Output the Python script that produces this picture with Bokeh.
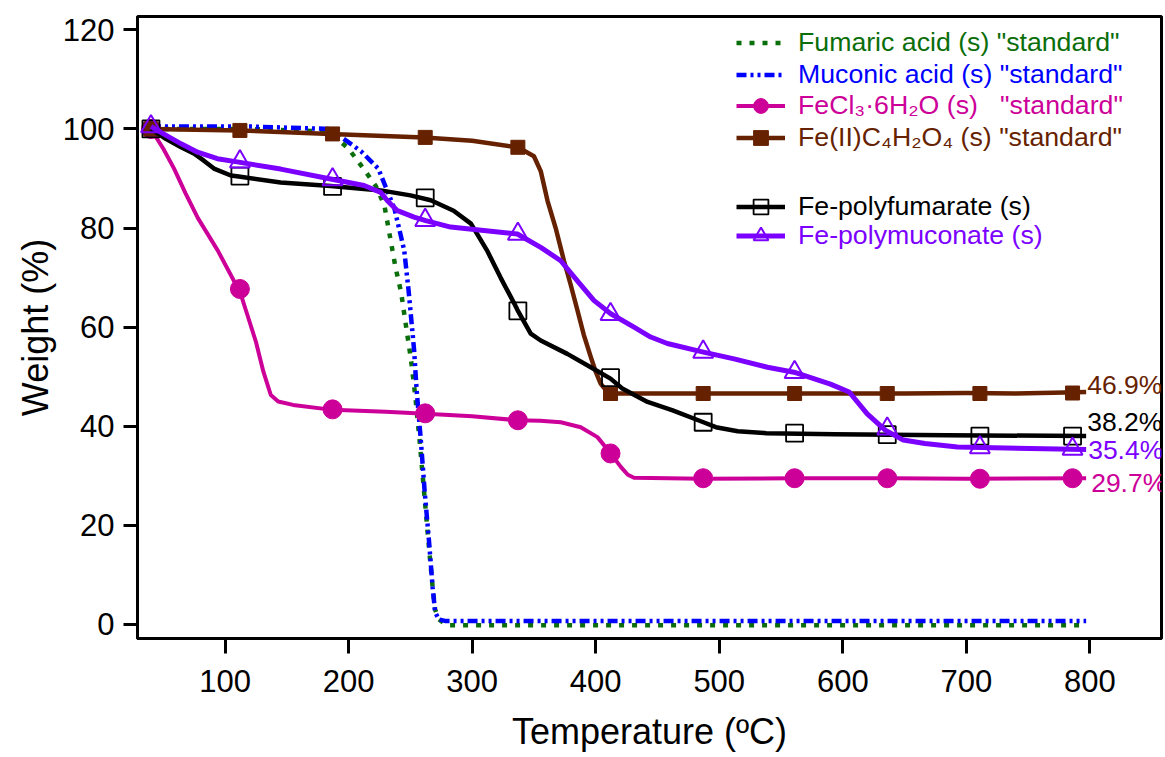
from bokeh.plotting import figure
from bokeh.models import Range1d, FixedTicker, Legend, LegendItem, ColumnDataSource
from bokeh.core.properties import value
from bokeh.embed import file_html
from bokeh.resources import INLINE

FONT = "Liberation Sans"

# ---------------- data ----------------
fumaric_T = [40, 120, 180, 191, 200, 212, 222, 229, 238, 242.5, 246, 250.5, 254, 257.5, 261, 264.5, 268, 270, 273, 280, 500, 797]
fumaric_W = [100, 100, 99.5, 98, 96, 92, 88.5, 84.5, 72, 67, 61, 53.4, 46, 37, 27, 17, 7.5, 3, 1, -0.2, -0.2, -0.2]

muconic_T = [40, 120, 185, 196, 210, 224, 237, 245, 248.5, 253, 255, 258.5, 261.5, 265, 268, 270, 273, 278, 500, 797]
muconic_W = [100.5, 100.5, 100, 98, 95.5, 92, 84, 75.5, 67.5, 55.4, 47.5, 37, 27, 17, 7.5, 2.5, 1, 0.7, 0.7, 0.7]

fecl3_T = [40, 50, 58.7, 68, 78, 94, 107, 111.3, 118, 125, 131, 137, 143, 155, 187, 230, 262.4, 300, 336.6, 355, 371.7, 387.9, 401.4, 412.2, 420.3, 426, 431, 486, 560, 640, 700, 797]
fecl3_W = [100, 96, 92, 87, 82, 75.5, 69.4, 67.7, 62.5, 57, 51, 46.3, 45, 44.3, 43.3, 42.9, 42.5, 42, 41.2, 41.1, 40.8, 39.8, 37.8, 34.5, 31.8, 30.2, 29.6, 29.4, 29.5, 29.5, 29.4, 29.5]

fefum_T = [40, 111.4, 185.5, 261, 300, 337, 350, 355.5, 361, 367.6, 374.3, 379.8, 385.2, 390.3, 396, 400, 404, 409.5, 412, 450, 550, 650, 700, 740, 780, 797]
fefum_W = [100, 99.7, 99, 98.3, 97.6, 96.3, 94.5, 91.5, 85.5, 80, 73.4, 68.5, 63.4, 58.5, 54, 51, 48.6, 46.9, 46.6, 46.6, 46.6, 46.6, 46.7, 46.6, 46.8, 46.9]

polyfum_T = [40, 52, 64.4, 75, 82.8, 91, 104.7, 111, 145, 185.5, 226, 250, 266.5, 285, 299, 312, 323, 334, 336.6, 347.4, 355.5, 377, 396, 412, 421.5, 442, 462.3, 487.2, 497.3, 515, 538, 593.4, 684, 797]
polyfum_W = [100, 98, 96.3, 95, 93.6, 92, 90.6, 90.4, 89.2, 88.5, 87.6, 86.6, 85.6, 83.5, 80.9, 75.5, 70, 64.8, 63.5, 58.7, 57.3, 54.6, 51.9, 49.6, 47.6, 44.9, 43.2, 40.8, 39.8, 39, 38.6, 38.4, 38.2, 38.0]

polymuc_T = [40, 48, 64.4, 77.7, 93.8, 111, 145, 185.5, 212.5, 226, 231.4, 239.5, 253, 262.4, 282.6, 309.4, 336.6, 355.5, 371.7, 385, 398.5, 412.2, 431, 444.5, 458, 486.3, 512, 539, 560.5, 590, 605.2, 619.8, 634.4, 649, 666.5, 692.8, 797]
polymuc_W = [100.5, 99.3, 97, 95.3, 94, 93.3, 91.9, 89.9, 88.6, 87.2, 85.5, 83.5, 82.2, 81.5, 80.2, 79.5, 78.8, 76.1, 73.4, 69.4, 65.4, 62.7, 60, 58, 56.7, 55, 53.6, 51.9, 50.9, 48.5, 46.9, 42.5, 39.2, 37.2, 36.5, 35.8, 35.3]

marker_T = [40, 112, 187, 262, 337, 412, 487, 561, 636, 711, 786]
fecl3_mW = [100, 67.7, 43.4, 42.6, 41.2, 34.5, 29.5, 29.5, 29.5, 29.4, 29.5]
fefum_mW = [100, 99.7, 99.0, 98.3, 96.3, 46.6, 46.6, 46.6, 46.6, 46.6, 46.7]
polyfum_mW = [100, 90.5, 88.4, 86.1, 63.3, 49.8, 40.8, 38.6, 38.3, 38.0, 38.0]
polymuc_mW = [100.5, 93.4, 89.8, 81.6, 78.8, 62.6, 55.0, 50.9, 39.5, 35.7, 35.4]

end_T = [797, 797, 797, 797]
end_W = [46.9, 38.2, 35.4, 29.7]
end_labels = ["46.9%", "38.2%", "35.4%", "29.7%"]

x_ticks = [100, 200, 300, 400, 500, 600, 700, 800]
y_ticks = [0, 20, 40, 60, 80, 100, 120]

labels = ['Fumaric acid (s) "standard"',
          'Muconic acid (s) "standard"',
          'FeCl\u2083\u00b76H\u2082O (s)\u00a0\u00a0\u00a0"standard"',
          'Fe(II)C\u2084H\u2082O\u2084 (s) "standard"',
          'Fe-polyfumarate (s)',
          'Fe-polymuconate (s)']

# ---------------- styles ----------------
GREEN = "#0a6e0a"
BLUE = "#0000ff"
MAGENTA = "#cc0099"
BROWN = "#662200"
BLACK = "#000000"
PURPLE = "#7b00ff"

p = figure(width=1165, height=757, output_backend="svg", toolbar_location=None,
           x_range=Range1d(29.1, 858), y_range=Range1d(-2.85, 122.7),
           min_border_left=137, min_border_right=4, min_border_top=16, min_border_bottom=119)
p.title.visible = False
p.grid.visible = False
p.outline_line_color = "black"
p.outline_line_width = 3
p.background_fill_color = "white"
p.border_fill_color = "white"

for ax in (p.xaxis[0], p.yaxis[0]):
    ax.axis_line_width = 3
    ax.major_tick_line_width = 3
    ax.major_tick_in = 0
    ax.minor_tick_line_color = None
    ax.major_label_text_font = FONT
    ax.major_label_text_font_size = "31px"
    ax.major_label_text_color = "black"
    ax.axis_label_text_font = FONT
    ax.axis_label_text_font_size = "36px"
    ax.axis_label_text_font_style = "normal"
    ax.axis_label_text_color = "black"

p.xaxis.ticker = FixedTicker(ticks=x_ticks)
p.yaxis.ticker = FixedTicker(ticks=y_ticks)
p.xaxis.major_tick_out = 15
p.yaxis.major_tick_out = 14
p.xaxis.major_label_standoff = 16
p.yaxis.major_label_standoff = 9
p.xaxis.axis_label = "Temperature (\u00baC)"
p.yaxis.axis_label = "Weight (%)"
p.xaxis.axis_label_standoff = 16
p.yaxis.axis_label_standoff = 4

r_fum = p.line(fumaric_T, fumaric_W, line_color=GREEN, line_width=4.5, line_dash="5 8")
r_muc = p.line(muconic_T, muconic_W, line_color=BLUE, line_width=4.5, line_dash="10 4 3 4 3 4")

r_fe3 = p.line(fecl3_T, fecl3_W, line_color=MAGENTA, line_width=4, line_join="round")
m_fe3 = p.scatter(marker_T, fecl3_mW, marker="circle", size=19, fill_color=MAGENTA, line_color=MAGENTA)

r_fe2 = p.line(fefum_T, fefum_W, line_color=BROWN, line_width=4.5, line_join="round")
m_fe2 = p.scatter(marker_T, fefum_mW, marker="square", size=14, fill_color=BROWN, line_color=BROWN)

r_pf = p.line(polyfum_T, polyfum_W, line_color=BLACK, line_width=4.5, line_join="round")
m_pf = p.scatter(marker_T, polyfum_mW, marker="square", size=17, fill_color=None, line_color=BLACK, line_width=1.8)

r_pm = p.line(polymuc_T, polymuc_W, line_color=PURPLE, line_width=5, line_join="round")
m_pm = p.scatter(marker_T, polymuc_mW, marker="triangle", size=20, fill_color=None, line_color=PURPLE, line_width=2)

# end labels (offsets are screen pixels, positive = down)
end_src = ColumnDataSource(dict(x=end_T, y=end_W, text=end_labels,
                                color=[BROWN, BLACK, PURPLE, MAGENTA],
                                dy=[-7, -13, 1, 6], dx=[1, 1, 2, 5]))
p.text(x="x", y="y", text="text", source=end_src, text_color="color",
       x_offset="dx", y_offset="dy", text_font=value(FONT), text_font_size="26.5px",
       text_baseline="middle", text_align="left")

# legends, one per entry so each label gets its own colour
entries = [
    (labels[0], [r_fum], GREEN, 43),
    (labels[1], [r_muc], BLUE, 75),
    (labels[2], [r_fe3, m_fe3], MAGENTA, 106),
    (labels[3], [r_fe2, m_fe2], BROWN, 138),
    (labels[4], [r_pf, m_pf], BLACK, 207),
    (labels[5], [r_pm, m_pm], PURPLE, 236),
]
frame_bottom = 638.3
GH = 37
for lab, rends, col, cy in entries:
    lg = Legend(items=[LegendItem(label=lab, renderers=rends)],
                location=(599, frame_bottom - cy - GH / 2),
                glyph_width=49, glyph_height=GH, label_height=GH,
                label_standoff=13, padding=0, margin=0, spacing=0,
                border_line_alpha=0, background_fill_alpha=0,
                label_text_font=FONT, label_text_font_size="26.7px",
                label_text_color=col)
    p.add_layout(lg)

open("out.html", "w").write(file_html(p, INLINE))
